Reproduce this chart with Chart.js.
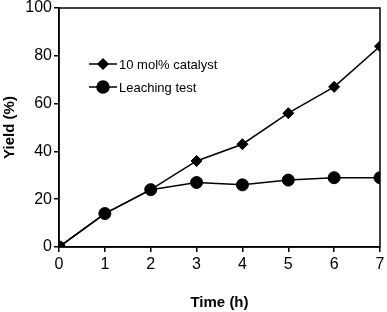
<!DOCTYPE html>
<html>
<head>
<meta charset="utf-8">
<script src="https://cdn.jsdelivr.net/npm/chart.js@4/dist/chart.umd.min.js"></script>
<style>
  html, body { margin: 0; padding: 0; background: #fff; }
  #wrap { width: 387px; height: 312px; position: relative; }
</style>
</head>
<body>
<div id="wrap"><canvas id="yieldChart"></canvas></div>
<script>
const timeHours = [0, 1, 2, 3, 4, 5, 6, 7];
const catalystYield = [0, 14, 24, 36, 43, 56, 67, 84];
const leachingYield = [0, 14, 24, 27, 26, 28, 29, 29];
const seriesNames = ['10 mol% catalyst', 'Leaching test'];
const xTitle = 'Time (h)';
const yTitle = 'Yield (%)';

function toPoints(values) {
    return timeHours.map((t, i) => ({ x: t, y: values[i] }));
}

// box round the plot area + hand drawn legend (line through marker)
const frameAndLegend = {
    id: 'frameAndLegend',
    afterDraw(chart) {
        const ctx = chart.ctx;
        const a = chart.chartArea;
        ctx.save();
        ctx.strokeStyle = '#000';
        ctx.lineWidth = 1.5;
        ctx.strokeRect(a.left, a.top, a.right - a.left, a.bottom - a.top);

        const rows = [
            { y: 64, style: 'rectRot', radius: 5 },
            { y: 87, style: 'circle', radius: 6 }
        ];
        rows.forEach((row, i) => {
            ctx.beginPath();
            ctx.moveTo(89, row.y);
            ctx.lineTo(117, row.y);
            ctx.lineWidth = 1.5;
            ctx.stroke();
            Chart.helpers.drawPoint(ctx, { pointStyle: row.style, radius: row.radius, borderWidth: 1 }, 103, row.y);
            ctx.fillStyle = '#000';
            ctx.font = '13px Arial, "Liberation Sans", sans-serif';
            ctx.textBaseline = 'middle';
            ctx.textAlign = 'left';
            ctx.fillText(seriesNames[i], 119, row.y + 1);
        });
        ctx.restore();
    }
};

const tickFont = { family: 'Arial, "Liberation Sans", sans-serif', size: 16 };
const titleFont = { family: 'Arial, "Liberation Sans", sans-serif', size: 15, weight: 'bold' };

new Chart(document.getElementById('yieldChart'), {
    type: 'line',
    data: {
        datasets: [{
            label: seriesNames[0],
            data: toPoints(catalystYield),
            borderColor: '#000',
            backgroundColor: '#000',
            borderWidth: 1.5,
            pointStyle: 'rectRot',
            pointRadius: 5.5,
            pointBorderWidth: 1,
            order: 1
        }, {
            label: seriesNames[1],
            data: toPoints(leachingYield),
            borderColor: '#000',
            backgroundColor: '#000',
            borderWidth: 1.5,
            pointStyle: 'circle',
            pointRadius: 6,
            pointBorderWidth: 1,
            order: 0
        }]
    },
    options: {
        responsive: true,
        maintainAspectRatio: false,
        animation: false,
        layout: { padding: { top: 8, right: 7, left: 0, bottom: 0 } },
        plugins: {
            legend: { display: false },
            tooltip: { enabled: false }
        },
        elements: { line: { tension: 0 } },
        scales: {
            x: {
                type: 'linear',
                min: 0,
                max: 7,
                ticks: { stepSize: 1, color: '#000', font: tickFont, padding: 3 },
                grid: { drawOnChartArea: false, tickLength: 5, color: '#000', lineWidth: 1.5 },
                border: { color: '#000', width: 1.5 },
                title: { display: true, text: xTitle, color: '#000', font: titleFont, padding: { top: 0, bottom: 0 } },
                afterFit(scale) {
                    scale.height = 65;
                    scale.paddingLeft = 0;
                    scale.paddingRight = 0;
                }
            },
            y: {
                min: 0,
                max: 100,
                ticks: { stepSize: 20, color: '#000', font: tickFont, padding: 2 },
                grid: { drawOnChartArea: false, tickLength: 5, color: '#000', lineWidth: 1.5 },
                border: { color: '#000', width: 1.5 },
                title: { display: true, text: yTitle, color: '#000', font: titleFont, padding: { top: 1, bottom: 0 } },
                afterFit(scale) {
                    scale.width = 59;
                    scale.paddingTop = 0;
                    scale.paddingBottom = 0;
                }
            }
        }
    },
    plugins: [frameAndLegend]
});
</script>
</body>
</html>
